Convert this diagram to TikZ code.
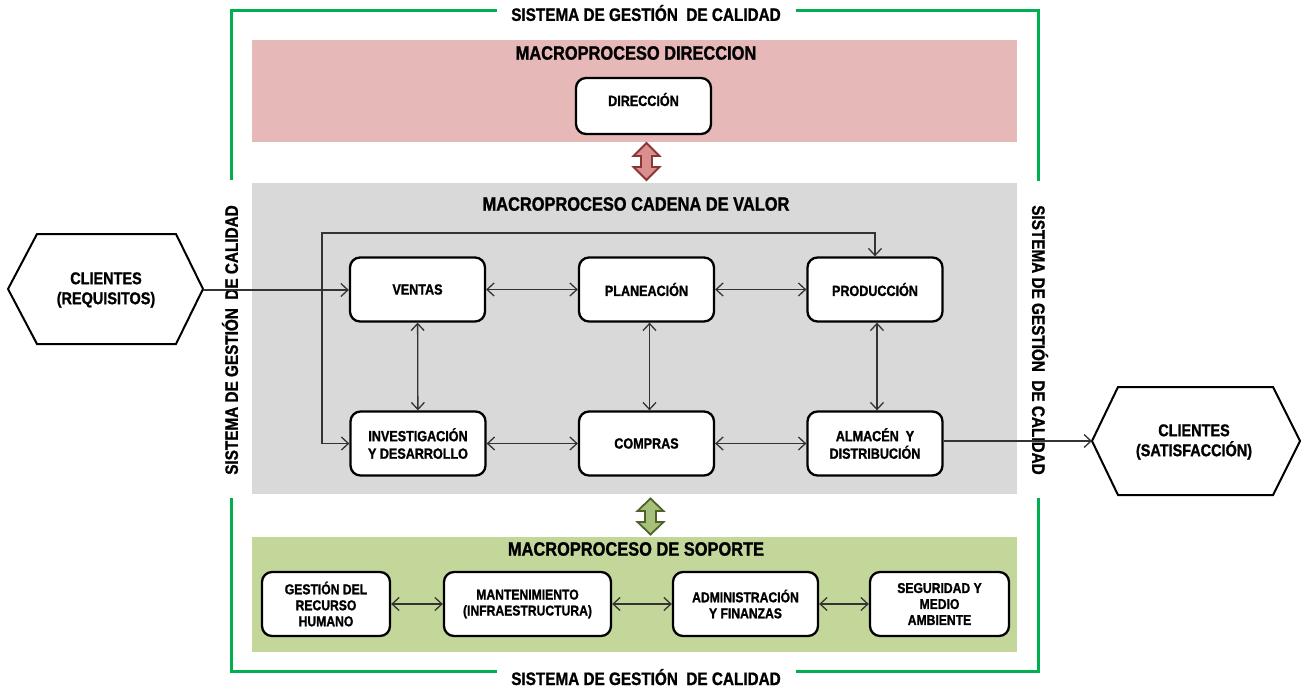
\documentclass[tikz,border=0pt]{standalone}
\usepackage{fontspec}
\setmainfont{Liberation Sans}[FakeStretch=0.85, BoldFeatures={FakeBold=1.2}]
\usetikzlibrary{arrows.meta,calc}

\definecolor{frameGreen}{HTML}{00B050}
\definecolor{dirPink}{HTML}{E6B8B7}
\definecolor{chainGray}{HTML}{D9D9D9}
\definecolor{supGreen}{HTML}{C4D79B}
\definecolor{pinkArrowFill}{HTML}{D98F8D}
\definecolor{pinkArrowLine}{HTML}{8C3634}
\definecolor{greenArrowFill}{HTML}{A6C07A}
\definecolor{greenArrowLine}{HTML}{4F6228}
\definecolor{linkGray}{HTML}{333333}

\begin{document}
\begin{tikzpicture}[x=1pt,y=-1pt,
  band/.style={draw=none, inner sep=0pt, minimum width=765pt},
  bandtitle/.style={font=\bfseries\fontsize{19.3}{21}\selectfont},
  qms/.style={font=\bfseries\fontsize{18}{20}\selectfont, inner sep=0pt},
  frameline/.style={draw=frameGreen, line width=3pt},
  procbox/.style={draw=black, line width=2.3pt, rounded corners=10pt, fill=white,
    align=center, inner sep=0pt, minimum width=135pt, minimum height=64pt,
    font=\bfseries\fontsize{14.8}{17.5}\selectfont},
  supbox/.style={procbox, font=\bfseries\fontsize{14.3}{16}\selectfont},
  hexline/.style={draw=black, line width=2pt, line join=miter, fill=white},
  hextext/.style={align=center, font=\bfseries\fontsize{17}{20}\selectfont},
  tip/.tip={Straight Barb[length=7pt,width=13pt,line width=1.3pt]},
  link/.style={draw=linkGray, line width=1.3pt, tip-tip},
  flow/.style={draw=linkGray, line width=1.3pt, -tip},
  bigarrow/.style={line width=1.8pt, line join=miter}
]
\useasboundingbox (0,0) rectangle (1307,688);

% background bands of the three macro-processes
\node[band, fill=dirPink,   minimum height=102pt] (dirband)   at (634.5,91)    {};
\node[band, fill=chainGray, minimum height=311pt] (chainband) at (634.5,338.5) {};
\node[band, fill=supGreen,  minimum height=115pt] (supband)   at (634.5,594.5) {};

\node[bandtitle] (dirtitle)   at (636,53)  {MACROPROCESO DIRECCION};
\node[bandtitle] (chaintitle) at (636,204) {MACROPROCESO CADENA DE VALOR};
\node[bandtitle] (suptitle)   at (636,549) {MACROPROCESO DE SOPORTE};

% quality management system frame
\node[qms] (qmsTop)    at (646,13)  {SISTEMA DE GESTIÓN\ \ DE CALIDAD};
\node[qms, anchor=base] (qmsBottom) at (646,685) {SISTEMA DE GESTIÓN\ \ DE CALIDAD};
\node[qms, rotate=90]  (qmsLeft)  at (230,340)  {SISTEMA DE GESTIÓN\ \ DE CALIDAD};
\node[qms, rotate=-90] (qmsRight) at (1040,340) {SISTEMA DE GESTIÓN\ \ DE CALIDAD};

\coordinate (fTL) at (231,10);
\coordinate (fTR) at (1038,10);
\coordinate (fBL) at (231,671);
\coordinate (fBR) at (1038,671);
\draw[frameline] (497,10) -- (fTL) -- (231,180);
\draw[frameline] (796,10) -- (fTR) -- (1038,181);
\draw[frameline] (231,498) -- (fBL) -- (497,671);
\draw[frameline] (1038,498) -- (fBR) -- (796,671);

% direction
\node[procbox, minimum height=56pt, text height=10pt, text depth=10pt] (direccion) at (643.5,106) {DIRECCIÓN};

% value chain
\node[procbox] (ventas)  at (417.5,289.5) {VENTAS};
\node[procbox] (plan)    at (646.5,289.5) {PLANEACIÓN};
\node[procbox] (prod)    at (875,289.5)   {PRODUCCIÓN};
\node[procbox] (inv)     at (418,443.5)   {INVESTIGACIÓN\\Y DESARROLLO};
\node[procbox] (compras) at (646.5,443.5) {COMPRAS};
\node[procbox] (alm)     at (875,443.5)   {ALMACÉN\ \ Y\\DISTRIBUCIÓN};

% support
\node[supbox, minimum width=128pt] (rrhh)  at (326,604)   {GESTIÓN DEL\\RECURSO\\HUMANO};
\node[supbox, minimum width=167pt] (mant)  at (527.5,604) {MANTENIMIENTO\\(INFRAESTRUCTURA)};
\node[supbox, minimum width=145pt] (admin) at (745.5,604) {ADMINISTRACIÓN\\Y FINANZAS};
\node[supbox, minimum width=139pt] (segur) at (939.5,604) {SEGURIDAD Y\\MEDIO\\AMBIENTE};

% customers
\draw[hexline] (8,289) -- (37,234) -- (176,234) -- (203,289) -- (176,344) -- (37,344) -- cycle;
\coordinate (reqR) at (203,290);
\node[hextext] (req) at (106,290) {CLIENTES\\(REQUISITOS)};

\draw[hexline] (1092,441) -- (1118,387) -- (1273,387) -- (1300,441) -- (1273,495) -- (1118,495) -- cycle;
\coordinate (satL) at (1092,441);
\node[hextext] (sat) at (1194,442) {CLIENTES\\(SATISFACCIÓN)};

% connectors
\draw[flow] (reqR) -- (ventas.west |- reqR);
\coordinate (loopTL) at (322,233);
\draw[link] (prod.north) |- (loopTL) |- (inv.west);
\draw[link] (ventas) -- (plan);
\draw[link] (plan) -- (prod);
\draw[link] (ventas) -- (inv);
\draw[link] ([xshift=3pt]plan.south) -- ([xshift=3pt]compras.north);
\draw[link] ([xshift=2pt]prod.south) -- ([xshift=2pt]alm.north);
\draw[link] (inv) -- (compras);
\draw[link] (compras) -- (alm);
\draw[flow] (alm.east |- satL) -- (satL);

\draw[link] (rrhh) -- (mant);
\draw[link] (mant) -- (admin);
\draw[link] (admin) -- (segur);

% block arrows between the bands
\begin{scope}[shift={(646.5,161.5)}]
  \draw[bigarrow, draw=pinkArrowLine, fill=pinkArrowFill]
    (0,-18.5) -- (13,-5.5) -- (5.5,-5.5) -- (5.5,5.5) -- (13,5.5) -- (0,18.5)
    -- (-13,5.5) -- (-5.5,5.5) -- (-5.5,-5.5) -- (-13,-5.5) -- cycle;
\end{scope}
\begin{scope}[shift={(650.5,516.5)}]
  \draw[bigarrow, draw=greenArrowLine, fill=greenArrowFill]
    (0,-18) -- (13,-5.5) -- (5.5,-5.5) -- (5.5,5.5) -- (13,5.5) -- (0,18)
    -- (-13,5.5) -- (-5.5,5.5) -- (-5.5,-5.5) -- (-13,-5.5) -- cycle;
\end{scope}
\end{tikzpicture}
\end{document}
